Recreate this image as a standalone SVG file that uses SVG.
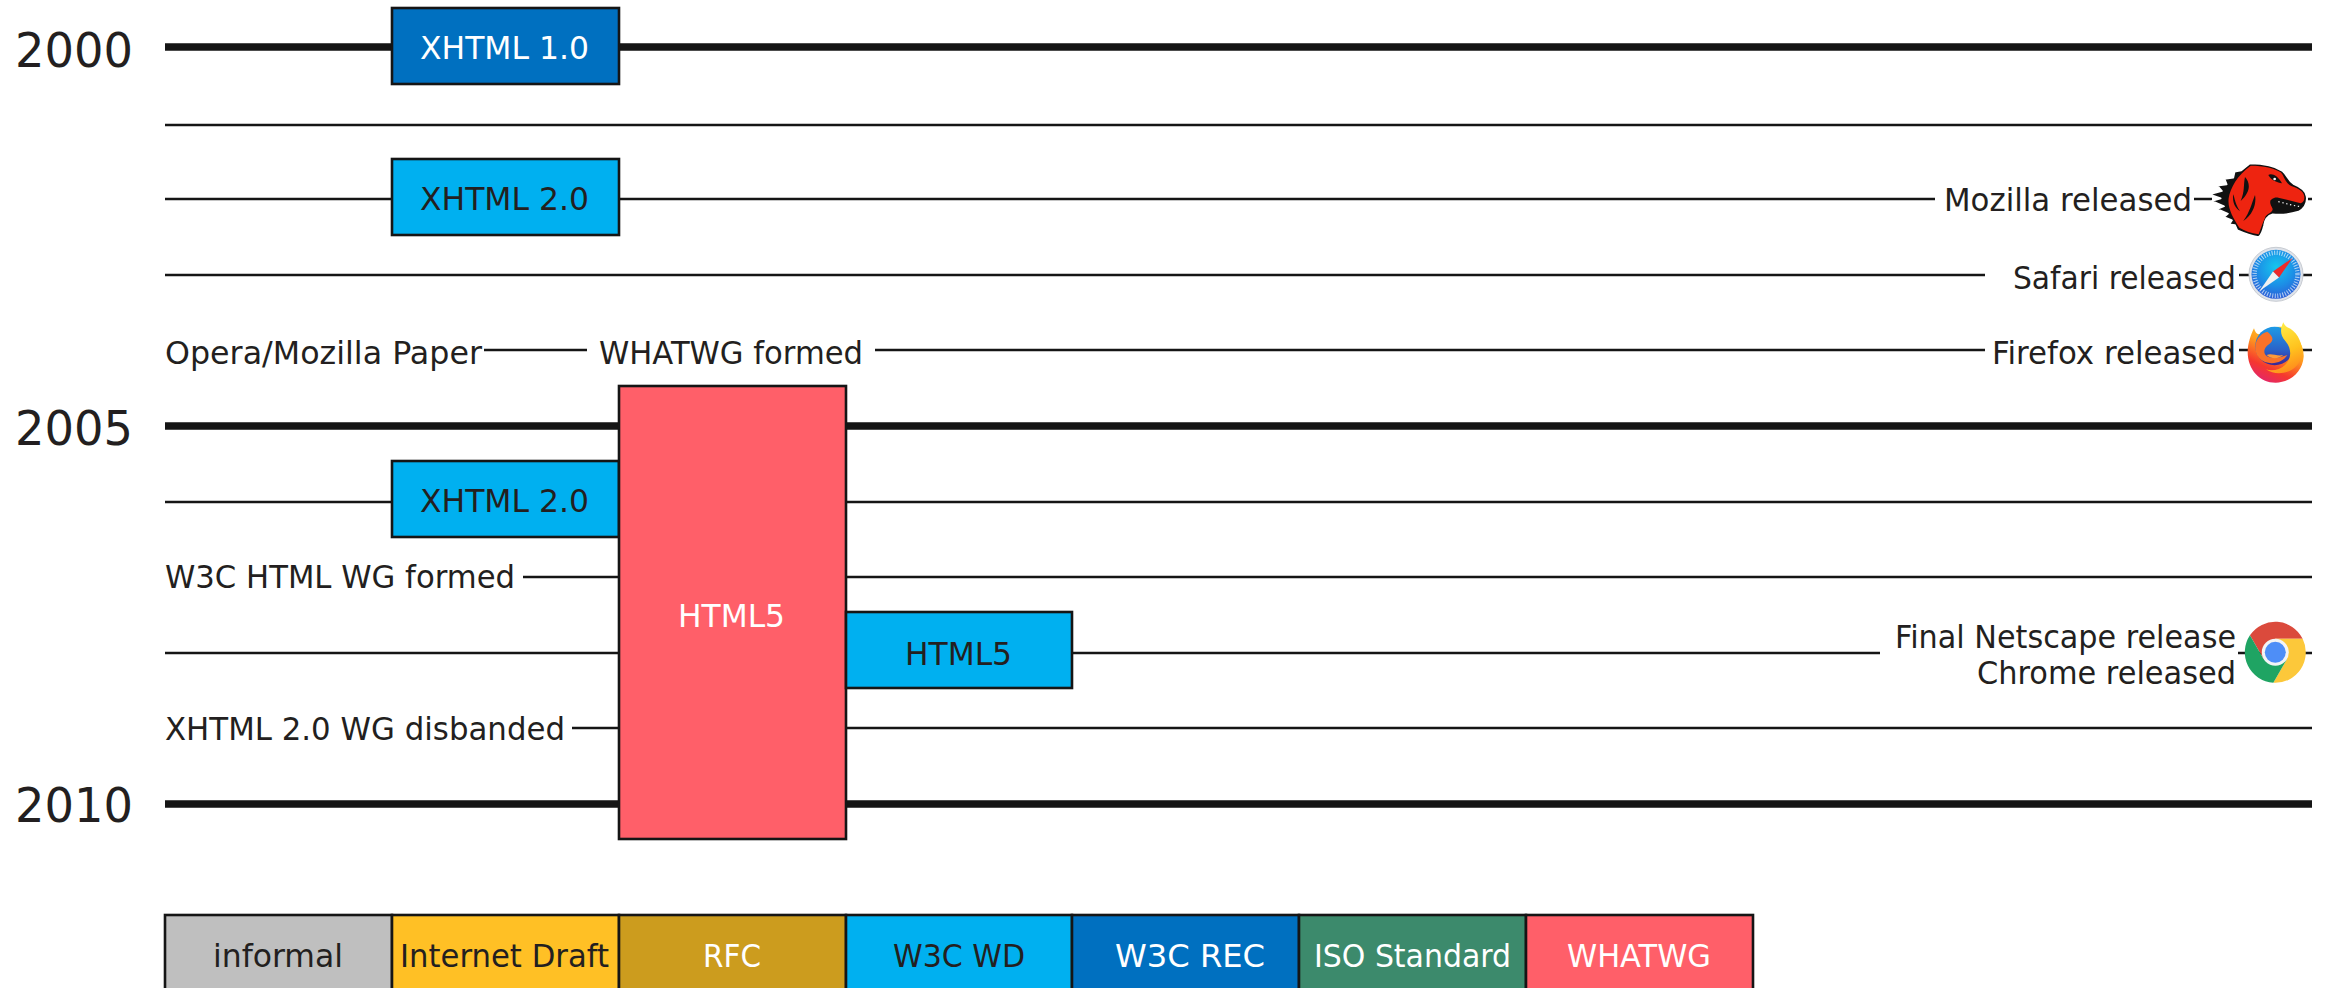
<svg xmlns="http://www.w3.org/2000/svg" width="2325" height="988" viewBox="0 0 2325 988">
<style>
text{font-family:"DejaVu Sans","Liberation Sans",sans-serif;font-size:32.5px;fill:#231f20}
.w{fill:#fff}
.y{font-size:48px}
.t{stroke:#151515;stroke-width:2.6;fill:none}
.k{stroke:#151515;stroke-width:7.5;fill:none}
.b{stroke:#151515;stroke-width:2.6}
</style>
<defs>
<radialGradient id="sf" cx="0.5" cy="0.35" r="0.7"><stop offset="0" stop-color="#16c6ee"/><stop offset="0.55" stop-color="#1c8ee6"/><stop offset="1" stop-color="#2f55d4"/></radialGradient>
<linearGradient id="fxb" x1="0.75" y1="0.05" x2="0.3" y2="1"><stop offset="0" stop-color="#ffd52e"/><stop offset="0.4" stop-color="#ff9a1e"/><stop offset="0.75" stop-color="#f5372f"/><stop offset="1" stop-color="#e3266b"/></linearGradient>
<linearGradient id="fxg" x1="0.5" y1="0" x2="0.5" y2="1"><stop offset="0" stop-color="#1d9be6"/><stop offset="0.6" stop-color="#2a62c8"/><stop offset="1" stop-color="#3a2596"/></linearGradient>
<linearGradient id="fxy" x1="0.3" y1="0" x2="0.6" y2="1"><stop offset="0" stop-color="#fff04a"/><stop offset="0.6" stop-color="#ffc21e"/><stop offset="1" stop-color="#ff8a1c"/></linearGradient>
</defs>
<rect width="2325" height="988" fill="#fff"/>
<g id="connectors">
<path class="k" d="M165 47H392M619 47H2312M165 426H619M845 426H2312M165 804H619M845 804H2312"/>
<path class="t" d="M165 125H2312M165 199H392M619 199H1935M2194 199H2212M2308 199H2312M165 275H1985M2239 275H2312M484 350H587M875 350H1985M2239 350H2312M165 502H392M845 502H2312M523 577H619M845 577H2312M165 653H619M1072 653H1880M2238 653H2312M572 728H619M845 728H2312"/>
</g>
<g id="years"><text class="y" x="15" y="67" textLength="118" lengthAdjust="spacingAndGlyphs">2000</text><text class="y" x="15" y="445" textLength="118" lengthAdjust="spacingAndGlyphs">2005</text><text class="y" x="15" y="822" textLength="118" lengthAdjust="spacingAndGlyphs">2010</text></g>
<g id="xhtml10"><rect class="b" x="392" y="8" width="227" height="76" fill="#0070c0"/><text class="w" x="420" y="58.500" textLength="169" lengthAdjust="spacingAndGlyphs">XHTML 1.0</text></g>
<g id="xhtml20a"><rect class="b" x="392" y="159" width="227" height="76" fill="#00b0f0"/><text x="420" y="209.500" textLength="169" lengthAdjust="spacingAndGlyphs">XHTML 2.0</text></g>
<g id="xhtml20b"><rect class="b" x="392" y="461" width="227" height="76" fill="#00b0f0"/><text x="420" y="511.500" textLength="169" lengthAdjust="spacingAndGlyphs">XHTML 2.0</text></g>
<g id="html5whatwg"><rect class="b" x="619" y="386" width="227" height="453" fill="#ff5f69"/><text class="w" x="678" y="626.500" textLength="107" lengthAdjust="spacingAndGlyphs">HTML5</text></g>
<g id="html5wd"><rect class="b" x="846" y="612" width="226" height="76" fill="#00b0f0"/><text x="905" y="664.500" textLength="107" lengthAdjust="spacingAndGlyphs">HTML5</text></g>
<g id="labels">
<text x="165" y="363.500" textLength="317" lengthAdjust="spacingAndGlyphs">Opera/Mozilla Paper</text>
<text x="599" y="363.500" textLength="264" lengthAdjust="spacingAndGlyphs">WHATWG formed</text>
<text x="165" y="587.500" textLength="350" lengthAdjust="spacingAndGlyphs">W3C HTML WG formed</text>
<text x="165" y="739.500" textLength="400" lengthAdjust="spacingAndGlyphs">XHTML 2.0 WG disbanded</text>
<text x="1944" y="210.500" textLength="248" lengthAdjust="spacingAndGlyphs">Mozilla released</text>
<text x="2013" y="288.500" textLength="223" lengthAdjust="spacingAndGlyphs">Safari released</text>
<text x="1992" y="363.500" textLength="244" lengthAdjust="spacingAndGlyphs">Firefox released</text>
<text x="1895" y="647.500" textLength="341" lengthAdjust="spacingAndGlyphs">Final Netscape release</text>
<text x="1977" y="683.500" textLength="259" lengthAdjust="spacingAndGlyphs">Chrome released</text>
</g>
<g id="mozilla" transform="translate(2200 155) scale(.3333)">
<path fill="#111" stroke="#fff" stroke-width="5" stroke-linejoin="round" d="M150 25C185 25 225 32 248 48C262 60 265 78 282 88C302 96 318 105 320 125C322 142 314 160 296 170C270 178 240 180 218 178C204 182 194 196 192 212C188 230 184 240 176 246C150 242 130 234 112 226L105 210L88 208L96 196L72 186L84 176L52 162L72 154L36 138L62 130L28 118L66 108L52 92L80 88L74 72L100 68L104 50L124 46Z"/>
<path fill="#ee2410" d="M152 32C190 32 225 40 242 52C254 64 252 80 274 93C297 101 312 110 313 125C314 135 310 142 302 145L235 128C215 125 205 140 215 155C225 170 207 172 197 184L187 208L176 238C152 235 132 226 118 218C100 190 82 160 86 130C90 100 112 60 152 32Z"/>
<path fill="#111" d="M212 135C240 128 280 145 308 150C297 166 260 171 225 166C215 155 210 145 212 135ZM205 60C215 53 235 63 246 85C232 82 215 78 205 60ZM135 66C152 85 152 110 122 138C135 110 130 88 135 66ZM165 120C170 145 160 178 130 198C150 170 155 145 165 120ZM100 118C104 130 106 150 120 168C105 160 96 140 100 118Z"/>
<circle cx="224" cy="72" r="4" fill="#fff"/>
<path stroke="#fff" stroke-width="3.500" stroke-dasharray="4 8" fill="none" d="M235 140C260 146 280 152 302 155"/>
</g>
<g id="safari">
<circle cx="2276" cy="274.300" r="27" fill="#dfe3ea" stroke="#c8ccd2" stroke-width="1"/>
<circle cx="2276" cy="274.300" r="24.500" fill="url(#sf)"/>
<circle cx="2276" cy="274.300" r="21.500" fill="none" stroke="#fff" stroke-opacity=".65" stroke-width="4.500" stroke-dasharray="1 1.600"/>
<polygon points="2292.500,258 2273,271.500 2279,277.500" fill="#ee2a2a"/>
<polygon points="2259.500,291 2273,271.500 2279,277.500" fill="#f1f1f1"/>
</g>
<g id="firefox" transform="translate(2230 240) scale(.3333)">
<path fill="url(#fxb)" d="M53 335C54 310 62 285 72 265C76 280 84 288 98 278C120 262 145 258 165 262L200 290C215 310 222 330 221 350C218 395 180 428 137 428C90 428 53 390 53 335Z"/>
<circle cx="134" cy="318" r="58" fill="url(#fxg)"/>
<path fill="#f9722a" d="M112 275C128 288 134 300 118 312C100 322 96 345 118 352C135 358 155 350 172 345C160 366 130 375 105 366C76 355 68 320 84 295C92 284 100 278 112 275Z"/>
<path fill="#ff9a3a" d="M110 345C125 338 140 350 160 345C148 356 125 360 110 345Z"/>
<path fill="url(#fxy)" d="M160 247C150 268 150 285 166 303C185 325 186 355 166 374C150 390 125 394 108 388C140 410 190 400 208 365C228 330 208 275 172 262C166 258 162 253 160 247Z"/>
</g>
<g id="chrome" transform="translate(2275.300 652.300)">
<path fill="#db4a3c" d="M0-13.500L27.350-13.500A30.500 30.500 0 0 0-25.370-16.930L-11.690 6.750Z"/>
<path fill="#fcc83a" d="M11.690 6.750L-1.980 30.440A30.500 30.500 0 0 0 27.350-13.500L0-13.500Z"/>
<path fill="#1fa463" d="M-11.690 6.750L-25.370-16.930A30.500 30.500 0 0 0-1.980 30.440L11.690 6.750Z"/>
<circle r="13.500" fill="#f4f4f4"/><circle r="10.500" fill="#4e8ef7"/>
</g>
<g id="legend">
<rect class="b" x="165" y="915" width="227" height="76" fill="#bfbfbf"/><text x="213" y="966.500" textLength="130" lengthAdjust="spacingAndGlyphs">informal</text>
<rect class="b" x="392" y="915" width="227" height="76" fill="#ffc025"/><text x="400" y="966.500" textLength="209" lengthAdjust="spacingAndGlyphs">Internet Draft</text>
<rect class="b" x="619" y="915" width="227" height="76" fill="#cc9c1e"/><text class="w" x="703" y="966.500" textLength="58" lengthAdjust="spacingAndGlyphs">RFC</text>
<rect class="b" x="846" y="915" width="226" height="76" fill="#00b0f0"/><text x="893" y="966.500" textLength="132" lengthAdjust="spacingAndGlyphs">W3C WD</text>
<rect class="b" x="1072" y="915" width="227" height="76" fill="#0070c0"/><text class="w" x="1115" y="966.500" textLength="150" lengthAdjust="spacingAndGlyphs">W3C REC</text>
<rect class="b" x="1299" y="915" width="227" height="76" fill="#3c8a6c"/><text class="w" x="1314" y="966.500" textLength="197" lengthAdjust="spacingAndGlyphs">ISO Standard</text>
<rect class="b" x="1526" y="915" width="227" height="76" fill="#ff5f69"/><text class="w" x="1567" y="966.500" textLength="144" lengthAdjust="spacingAndGlyphs">WHATWG</text>
</g>
</svg>
